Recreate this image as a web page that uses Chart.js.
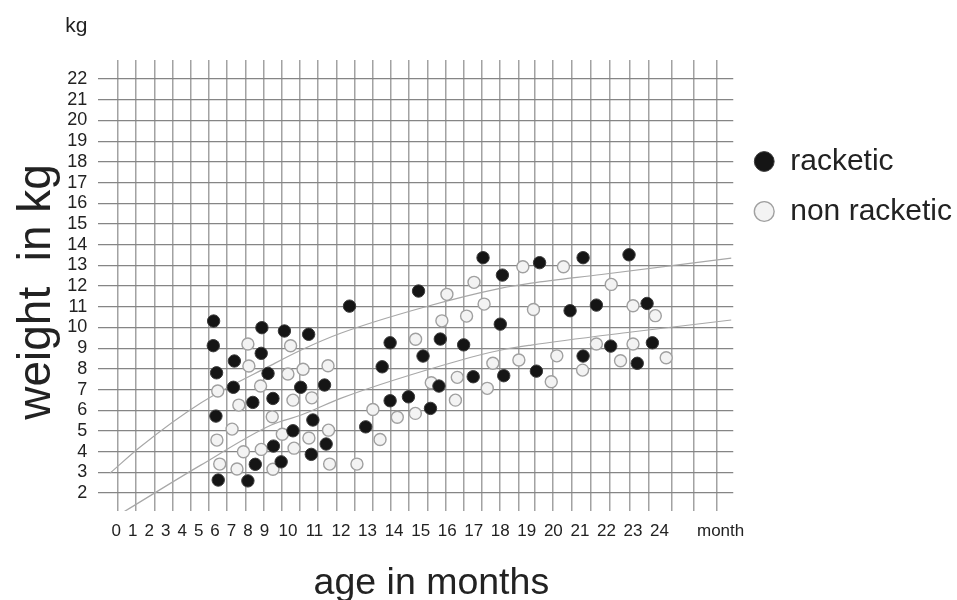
<!DOCTYPE html>
<html>
<head>
<meta charset="utf-8">
<script src="https://cdn.jsdelivr.net/npm/chart.js@4.4.1/dist/chart.umd.min.js"></script>
<style>
  html, body { margin: 0; padding: 0; background: #ffffff; }
  #wrap { width: 957px; height: 600px; }
</style>
</head>
<body>
<div id="wrap"><canvas id="c" width="957" height="600"></canvas></div>
<script>
// ---------------- data ----------------
const monthTicks = [0,1,2,3,4,5,6,7,8,9,10,11,12,13,14,15,16,17,18,19,20,21,22,23,24];
const monthUnitLabel = 'month';
const weightTicks = [2,3,4,5,6,7,8,9,10,11,12,13,14,15,16,17,18,19,20,21,22];

const racketicMonths  = [5.91,5.89,6.09,6.05,6.19,7.17,7.11,7.99,8.29,8.44,8.84,8.80,9.15,9.36,9.38,9.71,9.85,10.48,10.19,10.78,10.94,10.88,11.38,11.44,12.32,12.93,13.55,13.85,13.85,14.54,14.92,15.09,15.37,15.69,15.74,16.62,16.98,17.35,18.08,18.00,18.13,19.48,19.36,20.63,21.12,21.12,21.62,22.16,22.85,23.16,23.53,23.73];
const racketicWeights = [10.31,9.12,7.81,5.72,2.63,8.38,7.11,2.59,6.38,3.39,9.99,8.75,7.78,6.57,4.27,3.51,9.83,7.11,5.01,9.67,5.53,3.87,7.22,4.37,11.03,5.20,8.10,9.26,6.46,6.65,11.76,8.62,6.09,7.17,9.44,9.16,7.62,13.37,12.53,10.16,7.67,13.13,7.89,10.81,13.37,8.62,11.08,9.10,13.51,8.27,11.16,9.26];

const nonRacketicMonths  = [7.99,8.05,6.16,7.44,8.76,7.03,6.11,7.72,8.80,6.28,7.33,9.33,9.36,10.10,10.00,10.57,11.51,10.19,10.90,9.76,10.79,11.53,10.23,11.57,12.60,13.20,13.47,14.12,14.80,14.81,15.40,16.38,16.31,17.51,17.72,18.70,15.80,15.99,16.73,17.01,17.39,18.85,20.38,22.18,19.25,23.00,23.84,21.62,23.00,20.13,22.53,24.25,21.10,19.92];
const nonRacketicWeights = [9.20,8.14,6.93,6.25,7.17,5.09,4.56,4.00,4.11,3.40,3.16,5.69,3.15,9.12,7.75,7.98,8.15,6.49,6.60,4.84,4.66,5.04,4.17,3.40,3.40,6.04,4.59,5.66,5.85,9.43,7.33,7.59,6.49,7.06,8.27,8.43,10.32,11.60,10.55,12.18,11.13,12.93,12.93,12.08,10.87,11.05,10.57,9.20,9.20,8.63,8.39,8.54,7.94,7.38];

const upperCurveMonths  = [-0.37,1.47,5.13,9.29,10.50,12.01,15.02,18.04,19.17,21.81,26.70];
const upperCurveWeights = [2.97,4.24,6.35,8.18,8.91,9.73,10.94,11.90,12.14,12.56,13.35];
const lowerCurveMonths  = [0.43,5.13,9.29,10.50,12.01,16.53,18.04,19.17,22.94,26.70];
const lowerCurveWeights = [1.08,3.35,5.29,5.77,6.59,8.43,8.91,9.15,9.78,10.36];

// ---------------- layout of the drawn axis ----------------
// the month labels are set like typed text: narrow steps up to 9, wider from 10 on
const monthStops = [0, 9, 10, 24];
const monthStopFractions = [0.02835, 0.26189, 0.29874, 0.88394];
const monthUnitPosition = 26.3;
// decorative grid columns (column units)
const gridColumns = [0,1,2,3,4,5,6,7,8,9,10,11,12,13,14,15,16,17,18,19,20,21,22,22.91,23.90,24.95,25.99,27.05,28.11,29.15,30.44,31.63,32.91];

function monthToFraction(m) {
  const s = monthStops, f = monthStopFractions, n = s.length;
  if (m <= s[0]) return f[0] + (m - s[0]) * (f[1] - f[0]) / (s[1] - s[0]);
  for (let i = 0; i < n - 1; i++) {
    if (m <= s[i + 1]) return f[i] + (m - s[i]) * (f[i + 1] - f[i]) / (s[i + 1] - s[i]);
  }
  return f[n - 1] + (m - s[n - 1]) * (f[n - 1] - f[n - 2]) / (s[n - 1] - s[n - 2]);
}
function fractionToMonth(fr) {
  const s = monthStops, f = monthStopFractions, n = s.length;
  if (fr <= f[0]) return s[0] + (fr - f[0]) * (s[1] - s[0]) / (f[1] - f[0]);
  for (let i = 0; i < n - 1; i++) {
    if (fr <= f[i + 1]) return s[i] + (fr - f[i]) * (s[i + 1] - s[i]) / (f[i + 1] - f[i]);
  }
  return s[n - 1] + (fr - f[n - 1]) * (s[n - 1] - s[n - 2]) / (f[n - 1] - f[n - 2]);
}

class SplitMonthScale extends Chart.LinearScale {
  static id = 'splitMonth';
  getPixelForValue(value) {
    if (value === null || value === undefined || isNaN(value)) return NaN;
    return this.left + monthToFraction(value) * this.width;
  }
  getValueForPixel(pixel) {
    return fractionToMonth((pixel - this.left) / this.width);
  }
}
Chart.register(SplitMonthScale);

const FONT = "'Liberation Sans', Arial, Helvetica, sans-serif";
Chart.defaults.font.family = FONT;
Chart.defaults.color = '#222222';

const toPoints = (xs, ys) => xs.map((x, i) => ({ x: x, y: ys[i] }));

const unitLabel = {
  id: 'unitLabel',
  afterDraw(chart) {
    const { ctx, chartArea } = chart;
    ctx.save();
    ctx.font = '21px ' + FONT;
    ctx.fillStyle = '#222222';
    ctx.textAlign = 'center';
    ctx.textBaseline = 'middle';
    ctx.fillText('kg', chartArea.left - 22, chartArea.top - 34);
    ctx.restore();
  }
};

new Chart(document.getElementById('c'), {
  type: 'scatter',
  data: {
    datasets: [
      {
        label: 'racketic',
        data: toPoints(racketicMonths, racketicWeights),
        backgroundColor: '#151515',
        borderColor: '#3a3a3a',
        borderWidth: 1,
        pointRadius: 6.2,
        order: 1
      },
      {
        label: 'non racketic',
        data: toPoints(nonRacketicMonths, nonRacketicWeights),
        backgroundColor: '#f3f3f3',
        borderColor: '#a0a0a0',
        borderWidth: 1.4,
        pointRadius: 6,
        order: 1
      },
      {
        label: 'upper curve',
        data: toPoints(upperCurveMonths, upperCurveWeights),
        showLine: true,
        pointRadius: 0,
        borderColor: '#a8a8a8',
        borderWidth: 1.2,
        cubicInterpolationMode: 'monotone',
        order: 2
      },
      {
        label: 'lower curve',
        data: toPoints(lowerCurveMonths, lowerCurveWeights),
        showLine: true,
        pointRadius: 0,
        borderColor: '#a8a8a8',
        borderWidth: 1.2,
        cubicInterpolationMode: 'monotone',
        order: 2
      }
    ]
  },
  options: {
    responsive: false,
    animation: false,
    devicePixelRatio: 1,
    layout: { padding: { top: 60, right: -5, bottom: 0, left: 0 } },
    plugins: {
      tooltip: { enabled: false },
      legend: {
        position: 'right',
        align: 'start',
        title: { display: true, text: '', font: { size: 10 }, padding: { top: 54.5, bottom: 0 } },
        labels: {
          usePointStyle: true,
          pointStyle: 'circle',
          boxWidth: 22,
          boxHeight: 14,
          padding: 20,
          color: '#222222',
          font: { size: 30 },
          filter: (item) => item.datasetIndex < 2
        }
      }
    },
    scales: {
      x: {
        type: 'splitMonth',
        position: 'bottom',
        min: -1.2,
        max: 27,
        afterBuildTicks: (scale) => {
          scale.ticks = monthTicks.map(v => ({ value: v })).concat([{ value: monthUnitPosition }]);
        },
        ticks: {
          autoSkip: false,
          maxRotation: 0,
          minRotation: 0,
          padding: 10,
          color: '#222222',
          font: { size: 17 },
          callback: (v) => (v === monthUnitPosition ? monthUnitLabel : String(v))
        },
        grid: { display: false, drawTicks: false },
        border: { display: false },
        title: {
          display: true,
          text: '   age in months',
          color: '#222222',
          font: { size: 37.5, lineHeight: 1.0 },
          padding: { top: 13, bottom: -2 }
        }
      },
      gridX: {
        type: 'linear',
        position: 'top',
        min: -1.08,
        max: 33.81,
        afterBuildTicks: (scale) => { scale.ticks = gridColumns.map(v => ({ value: v })); },
        ticks: { display: false },
        grid: { display: true, drawTicks: false, color: '#a2a2a2', lineWidth: 1.5 },
        border: { display: false }
      },
      y: {
        type: 'linear',
        min: 1.13,
        max: 22.92,
        afterBuildTicks: (scale) => { scale.ticks = weightTicks.map(v => ({ value: v })); },
        ticks: { autoSkip: false, padding: 11, color: '#222222', font: { size: 18 } },
        grid: { color: '#858585', lineWidth: 1.2, drawTicks: false },
        border: { display: false },
        title: {
          display: true,
          text: 'weight  in kg ',
          color: '#222222',
          font: { size: 46 },
          padding: { top: 10, bottom: -9 }
        }
      }
    }
  },
  plugins: [unitLabel]
});
</script>
</body>
</html>
